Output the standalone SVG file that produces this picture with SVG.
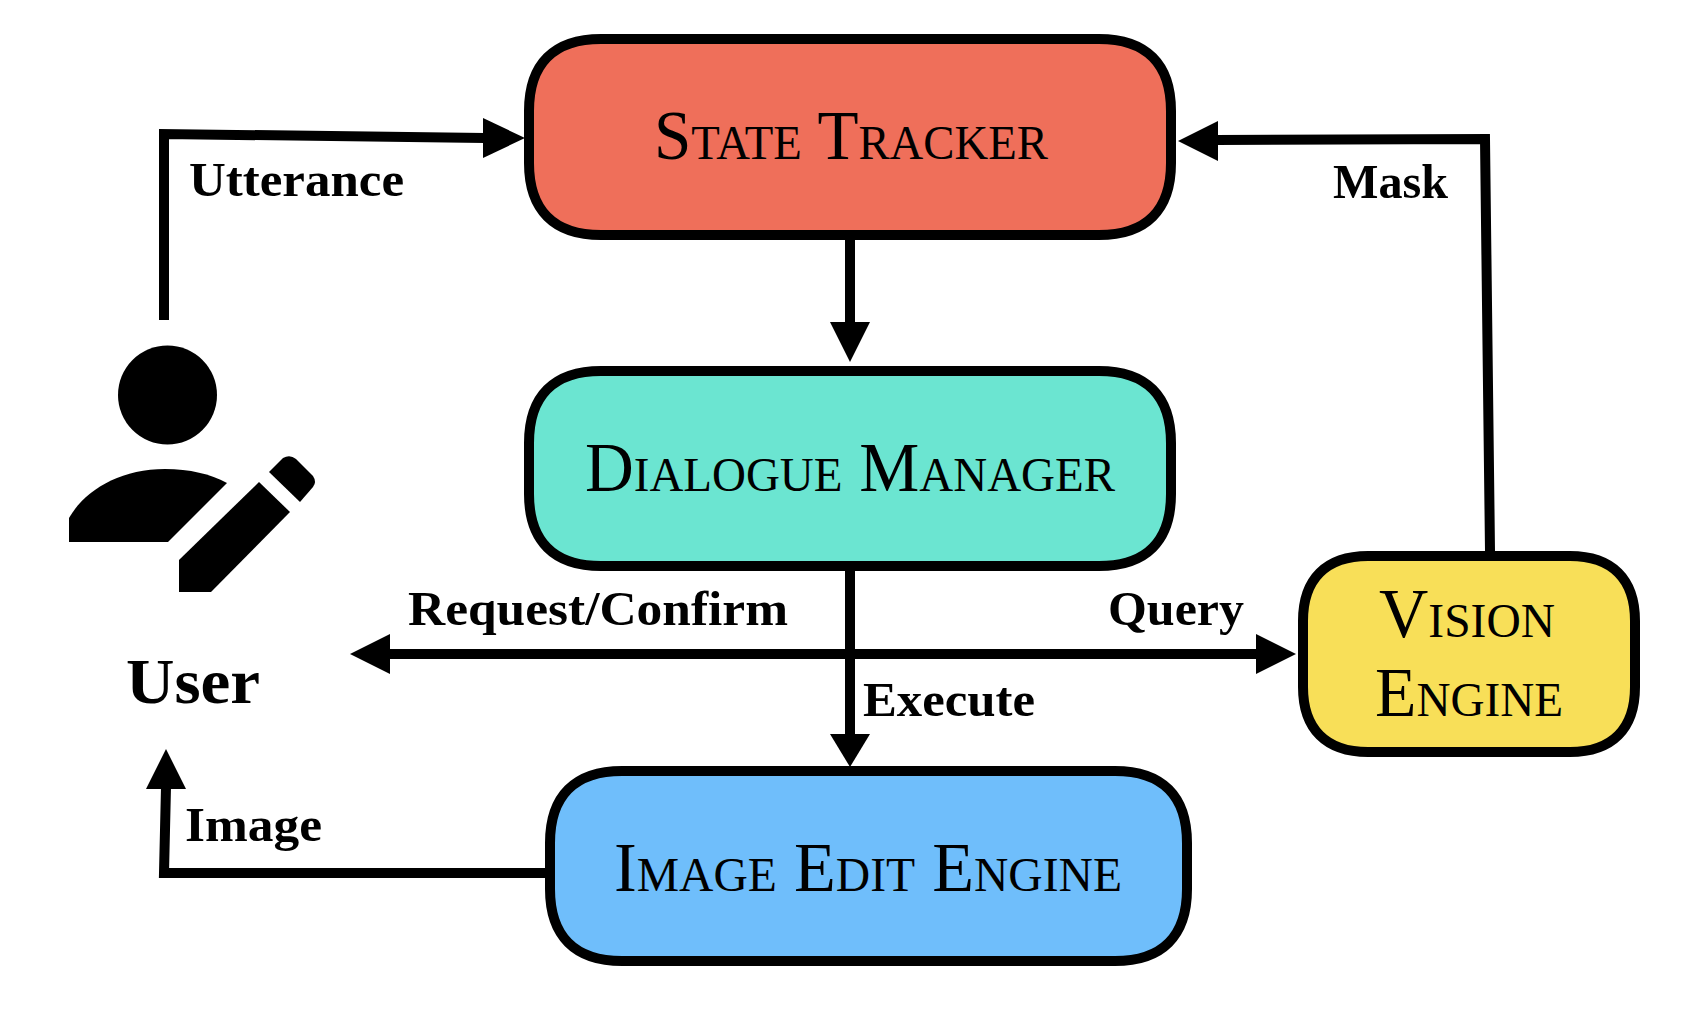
<svg xmlns="http://www.w3.org/2000/svg" width="1702" height="1012" viewBox="0 0 1702 1012">
<style>
.box{stroke:#000;stroke-width:10}
.title{font-family:"Liberation Serif",serif;font-size:69px;font-variant:small-caps;fill:#000}
.label{font-family:"Liberation Serif",serif;font-weight:bold;font-size:48px;fill:#000}
.line{fill:none;stroke:#000;stroke-width:10}
</style>
<rect width="1702" height="1012" fill="#fff"/>
<g id="connectors">
<path class="line" d="M164 320L164 134L485 138"/>
<polygon points="525,138 483,118 483,158"/>
<path class="line" d="M850 240V324"/>
<polygon points="850,362 830,322 870,322"/>
<path class="line" d="M850 570V736"/>
<polygon points="850,767 830,734 870,734"/>
<path class="line" d="M388 654H1258"/>
<polygon points="350,654 390,634 390,674"/>
<polygon points="1296,654 1256,634 1256,674"/>
<path class="line" d="M1490 551L1485 139L1216 140"/>
<polygon points="1178,141 1218,121 1218,161"/>
<path class="line" d="M545 873H164L166 787"/>
<polygon points="166,749 146,789 186,789"/>
</g>
<g id="state-tracker"><path class="box" d="M529 111C529 64 554 39 601 39H1099C1146 39 1171 64 1171 111V163C1171 210 1146 235 1099 235H601C554 235 529 210 529 163Z" fill="#EF6F5A"/><text class="title" x="654" y="159" textLength="394" lengthAdjust="spacingAndGlyphs">State Tracker</text></g>
<g id="dialogue-manager"><path class="box" d="M529 443C529 396 554 371 601 371H1099C1146 371 1171 396 1171 443V494C1171 541 1146 566 1099 566H601C554 566 529 541 529 494Z" fill="#6BE5D1"/><text class="title" x="585" y="491" textLength="530" lengthAdjust="spacingAndGlyphs">Dialogue Manager</text></g>
<g id="image-edit-engine"><path class="box" d="M550 843C550 796 575 771 622 771H1115C1162 771 1187 796 1187 843V889C1187 936 1162 961 1115 961H622C575 961 550 936 550 889Z" fill="#6FBEFB"/><text class="title" x="614" y="891" textLength="508" lengthAdjust="spacingAndGlyphs">Image Edit Engine</text></g>
<g id="vision-engine"><path class="box" d="M1303 621C1303 579 1326 556 1368 556H1570C1612 556 1635 579 1635 621V687C1635 729 1612 752 1570 752H1368C1326 752 1303 729 1303 687Z" fill="#F8DF58"/><text class="title" x="1379" y="637" textLength="176" lengthAdjust="spacingAndGlyphs">Vision</text><text class="title" x="1375" y="716" textLength="188" lengthAdjust="spacingAndGlyphs">Engine</text></g>
<g id="user">
<circle cx="167.500" cy="395" r="49.500"/>
<path d="M69 542V518C85 490 120 469 165 469C190 469 210 474 227 483L168 542Z"/>
<path d="M179 592V560L259 482L290 512L211 592Z"/>
<path d="M269 472L283 458Q290 454 296 459L313 476Q317 482 313 487L300 502Z"/>
<text class="label" x="126" y="703" style="font-size:64px" textLength="134" lengthAdjust="spacingAndGlyphs">User</text>
</g>
<g id="labels">
<text class="label" x="189" y="196" textLength="215" lengthAdjust="spacingAndGlyphs">Utterance</text>
<text class="label" x="1333" y="198" textLength="115" lengthAdjust="spacingAndGlyphs">Mask</text>
<text class="label" x="408" y="625" textLength="380" lengthAdjust="spacingAndGlyphs">Request/Confirm</text>
<text class="label" x="1108" y="625" textLength="136" lengthAdjust="spacingAndGlyphs">Query</text>
<text class="label" x="863" y="716" textLength="172" lengthAdjust="spacingAndGlyphs">Execute</text>
<text class="label" x="185" y="841" textLength="137" lengthAdjust="spacingAndGlyphs">Image</text>
</g>
</svg>
